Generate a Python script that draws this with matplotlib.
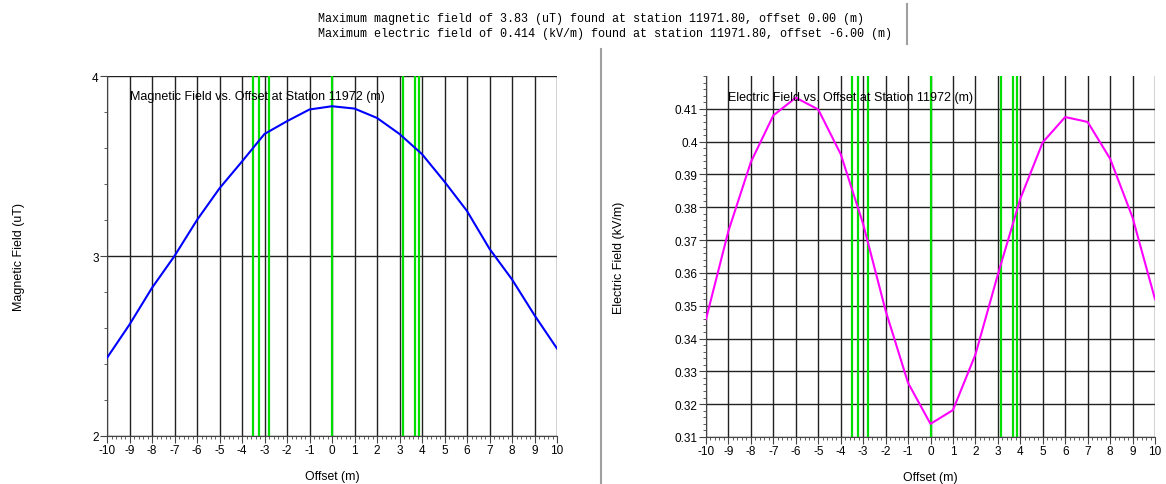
import numpy as np
import matplotlib
matplotlib.use('Agg')
import matplotlib.pyplot as plt
from matplotlib.ticker import MultipleLocator

# Offsets (m) and readings
offsets = list(range(-10, 11))
magnetic = [2.434, 2.619, 2.823, 3.00, 3.20, 3.376, 3.525, 3.678, 3.749, 3.814, 3.832,
            3.819, 3.767, 3.678, 3.566, 3.413, 3.25, 3.04, 2.87, 2.671, 2.486]
electric = [0.3459, 0.3728, 0.3938, 0.4080, 0.4134, 0.4098, 0.3962, 0.3749, 0.3485, 0.3265, 0.3140,
            0.3182, 0.3351, 0.3595, 0.3826, 0.3998, 0.4075, 0.4060, 0.3948, 0.3769, 0.3520]
# Conductor positions (green markers)
conductors = [-3.5, -3.25, -2.78, 0.0, 3.15, 3.67, 3.87]

header = ["Maximum magnetic field of 3.83 (uT) found at station 11971.80, offset 0.00 (m)",
          "Maximum electric field of 0.414 (kV/m) found at station 11971.80, offset -6.00 (m)"]

W, H = 1166, 485
plt.rcParams['font.family'] = ['Liberation Sans', 'DejaVu Sans']
plt.rcParams['axes.unicode_minus'] = False
fig = plt.figure(figsize=(W / 100, H / 100), dpi=100)


def setup(ax, ylim, major, minor):
    ax.set_xlim(-10, 10)
    ax.set_ylim(*ylim)
    ax.xaxis.set_major_locator(MultipleLocator(1))
    ax.xaxis.set_minor_locator(MultipleLocator(0.2))
    ax.yaxis.set_major_locator(MultipleLocator(major))
    ax.yaxis.set_minor_locator(MultipleLocator(minor))
    ax.grid(True, which='major', color='#222222', linewidth=1.0)
    ax.set_axisbelow(True)
    for s in ['top', 'right']:
        ax.spines[s].set_visible(False)
    ax.spines['left'].set_color('#444444')
    ax.spines['bottom'].set_color('#444444')
    ax.tick_params(which='major', direction='out', length=5, labelsize=8.5, pad=1, color='#444444')
    ax.tick_params(which='minor', direction='out', length=2.5, color='#444444')
    for c in conductors:
        ax.axvline(c, color='#00e000', linewidth=1.6, zorder=2)
    ax.set_xlabel('Offset (m)', fontsize=8.8, labelpad=10)


# Magnetic field
ax1 = fig.add_axes([107 / W, 1 - 437 / H, 450 / W, 360 / H])
setup(ax1, (2, 4), 1, 0.2)
ax1.plot(offsets, magnetic, color='#0000ff', linewidth=1.5, zorder=3)
ax1.set_ylabel('Magnetic Field (uT)', fontsize=9, labelpad=48)
ax1.text(-9.0, 3.87, 'Magnetic Field vs. Offset at Station 11972 (m)', fontsize=9, zorder=4)

# Electric field
ax2 = fig.add_axes([706 / W, 1 - 438 / H, 449 / W, 361 / H])
setup(ax2, (0.31, 0.42), 0.01, 0.002)
ax2.set_yticks(np.arange(0.31, 0.4151, 0.01))
ax2.set_yticklabels(['0.31', '0.32', '0.33', '0.34', '0.35', '0.36', '0.37', '0.38', '0.39', '0.4', '0.41'])
ax2.plot(offsets, electric, color='#ff00ff', linewidth=1.5, zorder=3)
ax2.set_ylabel('Electric Field (kV/m)', fontsize=9, labelpad=36)
ax2.text(-9.0, 0.4127, 'Electric Field vs. Offset at Station 11972 (m)', fontsize=9, zorder=4)

# Header and separators
fig.text(318 / W, 1 - 19 / H, header[0], fontsize=8.45, family='Liberation Mono', va='center')
fig.text(318 / W, 1 - 34 / H, header[1], fontsize=8.45, family='Liberation Mono', va='center')
fig.add_artist(plt.Line2D([601 / W, 601 / W], [0, 1 - 50 / H], color='#a0a0a0', linewidth=1.5))
fig.add_artist(plt.Line2D([907 / W, 907 / W], [1 - 45 / H, 1 - 5 / H], color='#a0a0a0', linewidth=1.5))

fig.savefig('out.png', dpi=100)
